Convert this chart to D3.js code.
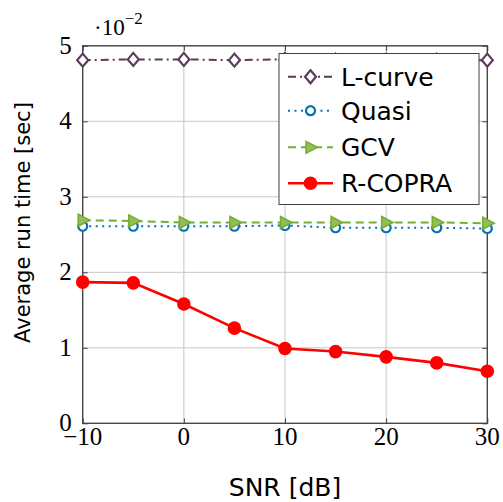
<!DOCTYPE html>
<html>
<head>
<meta charset="utf-8">
<script src="https://cdn.jsdelivr.net/npm/d3@7"></script>
<style>
  body { margin: 0; background: #fff; }
  svg { display: block; }
</style>
</head>
<body>
<div id="chart"></div>
<script>
// data (run time in seconds)
var snr = [-10, -5, 0, 5, 10, 15, 20, 25, 30];
var lcurve = [0.0481, 0.0482, 0.0482, 0.0481, 0.0482, 0.0481, 0.0481, 0.0481, 0.0481];
var quasi = [0.0261, 0.0261, 0.0261, 0.0261, 0.0262, 0.0259, 0.0259, 0.0259, 0.0258];
var gcv = [0.0269, 0.0268, 0.0266, 0.0266, 0.0266, 0.0266, 0.0266, 0.0266, 0.0265];
var rcopra = [0.0187, 0.0186, 0.0158, 0.0126, 0.0099, 0.0095, 0.0088, 0.0080, 0.0069];
var xTicks = [-10, 0, 10, 20, 30];
var yTicks = [0, 0.01, 0.02, 0.03, 0.04, 0.05];

var W = 503, H = 502;
var pL = 82.7, pR = 487.3, pT = 45.8, pB = 423.3;

var svg = d3.select("#chart")
    .append("svg")
    .attr("width", W)
    .attr("height", H);

var x = d3.scaleLinear().domain([-10, 30]).range([pL, pR]);
var y = d3.scaleLinear().domain([0, 0.05]).range([pB, pT]);

var serif = "'Liberation Serif', 'Times New Roman', serif";
var sans = "'DejaVu Sans', sans-serif";

// grid
svg.append("g")
    .selectAll("line")
    .data(xTicks)
    .enter().append("line")
    .attr("x1", function (d) { return x(d); })
    .attr("x2", function (d) { return x(d); })
    .attr("y1", pT).attr("y2", pB)
    .attr("stroke", "#c6c6c6").attr("stroke-width", 1);
svg.append("g")
    .selectAll("line")
    .data(yTicks)
    .enter().append("line")
    .attr("y1", function (d) { return y(d); })
    .attr("y2", function (d) { return y(d); })
    .attr("x1", pL).attr("x2", pR)
    .attr("stroke", "#c6c6c6").attr("stroke-width", 1);

// axes with inner ticks on all sides
var axColor = "#404040";
function styleAxis(g) {
    g.select(".domain").remove();
    g.selectAll(".tick line").attr("stroke", axColor).attr("stroke-width", 1);
}
svg.append("g")
    .attr("transform", "translate(0," + pB + ")")
    .call(d3.axisBottom(x).tickValues(xTicks).tickSize(-5).tickFormat(""))
    .call(styleAxis);
svg.append("g")
    .attr("transform", "translate(0," + pT + ")")
    .call(d3.axisTop(x).tickValues(xTicks).tickSize(-5).tickFormat(""))
    .call(styleAxis);
svg.append("g")
    .attr("transform", "translate(" + pL + ",0)")
    .call(d3.axisLeft(y).tickValues(yTicks).tickSize(-5).tickFormat(""))
    .call(styleAxis);
svg.append("g")
    .attr("transform", "translate(" + pR + ",0)")
    .call(d3.axisRight(y).tickValues(yTicks).tickSize(-5).tickFormat(""))
    .call(styleAxis);

svg.append("rect")
    .attr("x", pL).attr("y", pT)
    .attr("width", pR - pL).attr("height", pB - pT)
    .attr("fill", "none").attr("stroke", axColor).attr("stroke-width", 1.3);

// tick labels
svg.append("g")
    .selectAll("text")
    .data(xTicks)
    .enter().append("text")
    .attr("x", function (d) { return x(d); })
    .attr("y", pB + 22)
    .attr("text-anchor", "middle")
    .style("font-family", serif)
    .style("font-size", "25px")
    .text(function (d) { return d < 0 ? "\u2212" + (-d) : d; });
svg.append("g")
    .selectAll("text")
    .data(yTicks)
    .enter().append("text")
    .attr("x", pL - 11)
    .attr("y", function (d) { return y(d) + 8; })
    .attr("text-anchor", "end")
    .style("font-family", serif)
    .style("font-size", "25px")
    .text(function (d) { return Math.round(d * 100); });

// scale multiplier
var mult = svg.append("text")
    .attr("x", 94)
    .attr("y", 35)
    .style("font-family", serif)
    .style("font-size", "23px");
mult.append("tspan").text("\u00b710");
mult.append("tspan").attr("dy", -11).style("font-size", "17px").text("\u22122");

// axis labels
svg.append("text")
    .attr("x", (pL + pR) / 2)
    .attr("y", 496)
    .attr("text-anchor", "middle")
    .style("font-family", sans)
    .style("font-size", "25px")
    .text("SNR [dB]");
svg.append("text")
    .attr("transform", "translate(30," + ((pT + pB) / 2 - 12) + ") rotate(-90)")
    .attr("text-anchor", "middle")
    .style("font-family", sans)
    .style("font-size", "21px")
    .text("Average run time [sec]");

// series
var series = [
    { name: "L-curve", values: lcurve, color: "#5b3a5c", dash: "8,4,2,4", marker: "diamond", width: 2 },
    { name: "Quasi", values: quasi, color: "#0072bd", dash: "2,4.5", marker: "ocircle", width: 2 },
    { name: "GCV", values: gcv, color: "#77ac30", dash: "8,5", marker: "triangle", width: 2 },
    { name: "R-COPRA", values: rcopra, color: "#ff0000", dash: null, marker: "dot", width: 2.6 }
];

function drawMarker(g, type, color) {
    if (type === "diamond") {
        g.append("path").attr("d", "M0,-6.5L5.5,0L0,6.5L-5.5,0Z")
            .attr("fill", "#fff").attr("stroke", color).attr("stroke-width", 2.2);
    } else if (type === "ocircle") {
        g.append("circle").attr("r", 4.5)
            .attr("fill", "#fff").attr("stroke", color).attr("stroke-width", 2.2);
    } else if (type === "triangle") {
        g.append("path").attr("d", "M-4.5,-6L7,0L-4.5,6Z")
            .attr("fill", "#92bd59").attr("stroke", color).attr("stroke-width", 1.5);
    } else {
        g.append("circle").attr("r", 6.8).attr("fill", color);
    }
}

var line = d3.line()
    .x(function (d, i) { return x(snr[i]); })
    .y(function (d) { return y(d); });

series.forEach(function (s) {
    svg.append("path")
        .datum(s.values)
        .attr("fill", "none")
        .attr("stroke", s.color)
        .attr("stroke-width", s.width)
        .attr("stroke-dasharray", s.dash)
        .attr("d", line);
    svg.append("g")
        .selectAll("g")
        .data(s.values)
        .enter().append("g")
        .attr("transform", function (d, i) { return "translate(" + x(snr[i]) + "," + y(d) + ")"; })
        .each(function () { drawMarker(d3.select(this), s.marker, s.color); });
});

// legend
var lg = svg.append("g");
lg.append("rect")
    .attr("x", 279).attr("y", 53.5)
    .attr("width", 200).attr("height", 151)
    .attr("fill", "#fff").attr("stroke", axColor).attr("stroke-width", 1);
var rowY = [76.7, 110.7, 147.3, 183.3];
series.forEach(function (s, i) {
    var row = lg.append("g").attr("transform", "translate(0," + rowY[i] + ")");
    row.append("line")
        .attr("x1", 288).attr("x2", 333)
        .attr("stroke", s.color)
        .attr("stroke-width", s.width)
        .attr("stroke-dasharray", s.dash);
    drawMarker(row.append("g").attr("transform", "translate(310.5,0)"), s.marker, s.color);
    row.append("text")
        .attr("x", 341)
        .attr("y", 9)
        .style("font-family", sans)
        .style("font-size", "25px")
        .text(s.name);
});
</script>
</body>
</html>
